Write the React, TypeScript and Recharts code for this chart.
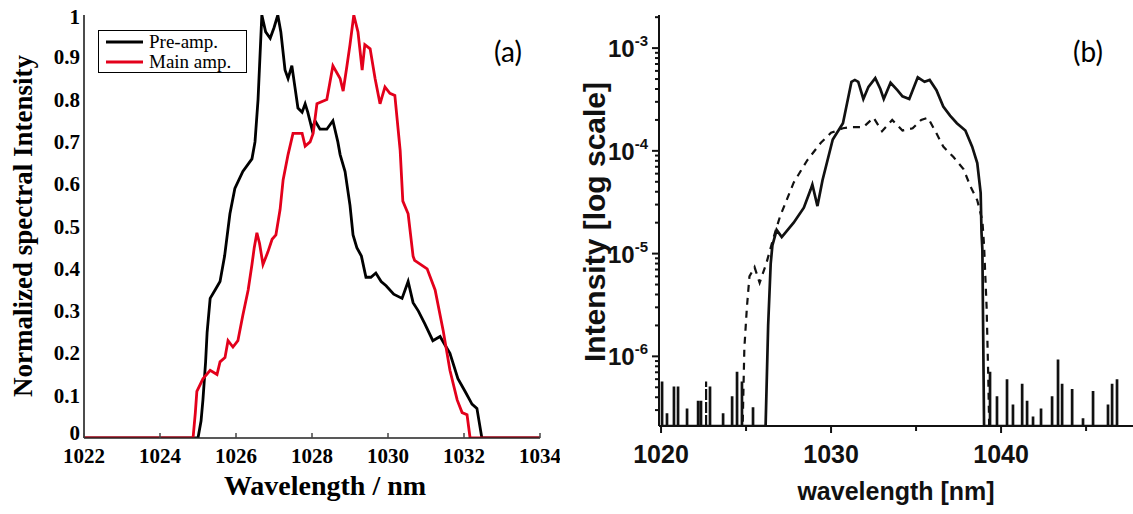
import { LineChart, Line, XAxis, YAxis, Legend } from 'recharts'

// panel (a): normalized spectra, [wavelength nm, intensity]
const preAmp: [number, number][] = [
  [1022, 0], [1025.0, 0], [1025.08, 0.04], [1025.13, 0.09], [1025.2, 0.18], [1025.24, 0.25],
  [1025.32, 0.33], [1025.45, 0.35], [1025.58, 0.37], [1025.7, 0.43], [1025.84, 0.53],
  [1025.97, 0.59], [1026.18, 0.63], [1026.42, 0.66], [1026.5, 0.7], [1026.58, 0.8],
  [1026.68, 1.0], [1026.78, 0.96], [1026.9, 0.945], [1027.0, 0.97], [1027.1, 1.0],
  [1027.18, 0.96], [1027.29, 0.87], [1027.37, 0.85], [1027.47, 0.88], [1027.55, 0.83],
  [1027.63, 0.78], [1027.74, 0.77], [1027.82, 0.79], [1027.89, 0.77], [1028.0, 0.73],
  [1028.08, 0.75], [1028.21, 0.73], [1028.39, 0.73], [1028.55, 0.75], [1028.68, 0.7],
  [1028.74, 0.67], [1028.87, 0.63], [1029.0, 0.55], [1029.08, 0.48], [1029.18, 0.45],
  [1029.3, 0.43], [1029.42, 0.38], [1029.55, 0.38], [1029.68, 0.39], [1029.82, 0.37],
  [1029.95, 0.36], [1030.15, 0.34], [1030.37, 0.33], [1030.53, 0.37], [1030.66, 0.32],
  [1030.8, 0.3], [1030.97, 0.27], [1031.18, 0.23], [1031.37, 0.24], [1031.5, 0.22],
  [1031.63, 0.2], [1031.84, 0.14], [1032.03, 0.11], [1032.15, 0.09], [1032.21, 0.08],
  [1032.34, 0.07], [1032.47, 0], [1034, 0],
]

const mainAmp: [number, number][] = [
  [1022, 0], [1024.87, 0], [1024.93, 0.06], [1024.97, 0.11], [1025.13, 0.14], [1025.32, 0.16],
  [1025.5, 0.15], [1025.58, 0.18], [1025.71, 0.19], [1025.79, 0.23], [1025.92, 0.215],
  [1026.05, 0.23], [1026.18, 0.29], [1026.32, 0.35], [1026.42, 0.41], [1026.48, 0.45],
  [1026.55, 0.485], [1026.62, 0.46], [1026.71, 0.41], [1026.84, 0.44], [1026.95, 0.47],
  [1027.05, 0.48], [1027.16, 0.54], [1027.24, 0.61], [1027.37, 0.67], [1027.5, 0.72],
  [1027.74, 0.72], [1027.82, 0.69], [1027.95, 0.7], [1028.03, 0.72], [1028.13, 0.79],
  [1028.39, 0.8], [1028.47, 0.84], [1028.55, 0.88], [1028.74, 0.85], [1028.82, 0.82],
  [1028.92, 0.88], [1029.0, 0.93], [1029.1, 1.0], [1029.21, 0.96], [1029.32, 0.87],
  [1029.39, 0.93], [1029.53, 0.92], [1029.66, 0.85], [1029.79, 0.79], [1029.92, 0.83],
  [1030.05, 0.815], [1030.18, 0.81], [1030.32, 0.68], [1030.39, 0.56], [1030.53, 0.53],
  [1030.66, 0.43], [1030.7, 0.42], [1031.03, 0.4], [1031.24, 0.35], [1031.45, 0.255],
  [1031.63, 0.16], [1031.82, 0.09], [1031.95, 0.06], [1032.08, 0.055], [1032.16, 0], [1034, 0],
]

// panel (b): log-scale spectra
const FLOOR = 2.1e-7
const CEIL = 2.1e-3

const solidSpectrum: [number, number][] = [
  [1026.15, FLOOR], [1026.3, 2e-6], [1026.45, 8e-6], [1026.55, 1.2e-5], [1026.8, 1.7e-5],
  [1027.1, 1.45e-5], [1027.8, 2.0e-5], [1028.4, 2.8e-5], [1028.8, 4.2e-5], [1028.9, 4.7e-5],
  [1029.2, 2.9e-5], [1029.5, 5.2e-5], [1030.1, 1.29e-4], [1030.7, 1.86e-4], [1031.2, 4.7e-4],
  [1031.4, 4.9e-4], [1031.6, 4.7e-4], [1031.9, 3.2e-4], [1032.2, 4.2e-4], [1032.6, 5.1e-4],
  [1032.9, 4.0e-4], [1033.1, 3.2e-4], [1033.5, 4.6e-4], [1033.9, 3.9e-4], [1034.2, 3.4e-4],
  [1034.6, 3.2e-4], [1035.1, 5.2e-4], [1035.5, 4.7e-4], [1035.8, 4.9e-4], [1036.2, 3.9e-4],
  [1036.6, 2.7e-4], [1037.0, 2.2e-4], [1037.4, 1.86e-4], [1037.9, 1.58e-4], [1038.3, 1.1e-4],
  [1038.6, 7.6e-5], [1038.8, 3.9e-5], [1038.85, 1.6e-5], [1038.9, 1.1e-5], [1039.0, FLOOR],
]

const dashedSpectrum: [number, number][] = [
  [1024.8, FLOOR], [1024.9, 1.2e-6], [1025.05, 3e-6], [1025.2, 6e-6], [1025.5, 7.4e-6],
  [1025.8, 5.2e-6], [1026.2, 8.1e-6], [1026.6, 1.4e-5], [1027.0, 2.3e-5], [1027.8, 4.9e-5],
  [1028.6, 8.1e-5], [1029.4, 1.2e-4], [1030.0, 1.5e-4], [1030.7, 1.66e-4], [1031.1, 1.7e-4],
  [1031.9, 1.7e-4], [1032.5, 2.1e-4], [1033.0, 1.55e-4], [1033.6, 2.0e-4], [1034.2, 1.58e-4],
  [1034.8, 1.66e-4], [1035.3, 2.0e-4], [1035.7, 2.1e-4], [1036.2, 1.48e-4], [1036.6, 1.1e-4],
  [1037.2, 8.7e-5], [1037.8, 6.6e-5], [1038.2, 4.5e-5], [1038.6, 3.3e-5], [1038.9, 2.1e-5],
  [1039.0, 1.2e-5], [1039.15, 3e-6], [1039.25, 6e-7], [1039.3, FLOOR],
]

// noise spikes rising from the floor: [wavelength, peak]
const solidNoiseLeft: [number, number][] = [
  [1020.06, 5.7e-7], [1020.35, 2.8e-7], [1020.76, 5.1e-7], [1021.0, 5.1e-7], [1021.53, 3.1e-7],
  [1022.18, 3.7e-7], [1022.35, 3.7e-7], [1022.88, 5.1e-7], [1023.65, 2.8e-7], [1024.18, 4.1e-7],
  [1024.47, 7.1e-7], [1024.76, 5.7e-7], [1025.41, 3.2e-7],
]
const solidNoiseRight: [number, number][] = [
  [1039.35, 7.1e-7], [1039.76, 4.1e-7], [1040.35, 6.0e-7], [1040.7, 3.4e-7], [1041.24, 5.4e-7],
  [1041.53, 3.7e-7], [1041.88, 2.6e-7], [1042.35, 3.1e-7], [1043.0, 4.1e-7], [1043.35, 9.3e-7],
  [1043.59, 5.4e-7], [1044.18, 4.8e-7], [1044.82, 2.5e-7], [1045.41, 4.6e-7], [1046.29, 3.4e-7],
  [1046.53, 5.4e-7], [1046.82, 6.0e-7],
]
const dashedNoise: [number, number][] = [[1022.65, 5.7e-7]]

const legendOrder = ['Pre-amp.', 'Main amp.']
const aTicksX = [1022, 1024, 1026, 1028, 1030, 1032, 1034]
const aTicksY = [0, 0.1, 0.2, 0.3, 0.4, 0.5, 0.6, 0.7, 0.8, 0.9, 1]
const bMajorX = [1020, 1030, 1040]
const bTicksX = [1020, 1025, 1030, 1035, 1040, 1045]
const bMajorY = [1e-6, 1e-5, 1e-4, 1e-3]
const bDecades = [1e-7, 1e-6, 1e-5, 1e-4, 1e-3]

const bTicksY = bDecades
  .flatMap(d => [1, 2, 3, 4, 5, 6, 7, 8, 9].map(m => d * m))
  .filter(v => v >= FLOOR && v <= CEIL)

const rows = (list: [number, number][]) => list.map(([x, y]) => ({ x, y }))
const spikes = (list: [number, number][]) =>
  list.flatMap(([x, h]) => [{ x, y: FLOOR }, { x, y: h }, { x, y: FLOOR }])

const preRows = rows(preAmp)
const mainRows = rows(mainAmp)
const solidRows = [...spikes(solidNoiseLeft), ...rows(solidSpectrum), ...spikes(solidNoiseRight)]
const dashedRows = [...spikes(dashedNoise), ...rows(dashedSpectrum)]

const SERIF = "'Liberation Serif', 'Times New Roman', serif"
const SANS = "'Liberation Sans', Arial, sans-serif"

function ATickX({ x, y, payload }: any) {
  return (
    <g>
      <line x1={x} x2={x} y1={y} y2={y - 5} stroke="#444" strokeWidth={1.5} />
      <text x={x} y={y + 25} textAnchor="middle" fontFamily={SERIF} fontWeight="bold" fontSize={21} fill="#000">
        {payload.value}
      </text>
    </g>
  )
}

function ATickY({ x, y, payload }: any) {
  // the end labels sit slightly inside the frame, as in the source figure
  const shift = payload.value === 0 ? -5 : payload.value === 1 ? 2 : 0
  return (
    <text x={x - 4} y={y + 7 + shift} textAnchor="end" fontFamily={SERIF} fontWeight="bold" fontSize={21} fill="#000">
      {String(payload.value)}
    </text>
  )
}

function BTickX({ x, y, payload }: any) {
  const major = bMajorX.includes(payload.value)
  return (
    <g>
      <line x1={x} x2={x} y1={y} y2={y + (major ? 7 : 5)} stroke="#111" strokeWidth={2} />
      {major && (
        <text x={x} y={y + 37} textAnchor="middle" fontFamily={SANS} fontWeight="bold" fontSize={25} fill="#111">
          {payload.value}
        </text>
      )}
    </g>
  )
}

function BTickY({ x, y, payload }: any) {
  const v = payload.value
  const major = bMajorY.includes(v)
  return (
    <g>
      <line x1={x} x2={x - (major ? 7 : 4)} y1={y} y2={y} stroke="#111" strokeWidth={2} />
      {major && (
        <text x={x - 11} y={y + 9} textAnchor="end" fontFamily={SANS} fontWeight="bold" fontSize={24} fill="#111">
          10
          <tspan dy={-11} fontSize={15}>{Math.round(Math.log10(v))}</tspan>
        </text>
      )}
    </g>
  )
}

function LegendBox({ payload }: any) {
  const items = [...(payload || [])].sort(
    (a: any, b: any) => legendOrder.indexOf(a.value) - legendOrder.indexOf(b.value),
  )
  return (
    <div style={{ width: 149, height: 43, border: '1px solid #000', boxSizing: 'border-box', background: '#fff', paddingTop: 1 }}>
      {items.map((p: any) => (
        <div key={p.value} style={{ display: 'flex', alignItems: 'center', height: 20 }}>
          <svg width={50} height={20}>
            <line x1={7} x2={44} y1={10} y2={10} stroke={p.color} strokeWidth={3} />
          </svg>
          <span style={{ fontFamily: SERIF, fontSize: 19, lineHeight: '20px', color: '#000' }}>{p.value}</span>
        </div>
      ))}
    </div>
  )
}

export default function App() {
  return (
    <div style={{ position: 'absolute', left: 0, top: 0, width: 1133, height: 514, background: '#fff' }}>
      <div style={{ position: 'absolute', left: 0, top: 0 }}>
        <LineChart width={560} height={514} margin={{ top: 15, right: 20, bottom: 0, left: 0 }}>
          <XAxis
            dataKey="x" type="number" domain={[1022, 1034]} ticks={aTicksX} allowDataOverflow
            height={76} tickSize={0} tickMargin={0} tickLine={false} tick={<ATickX />}
            axisLine={{ stroke: '#222', strokeWidth: 1.5 }}
          />
          <XAxis
            xAxisId="top" orientation="top" type="number" domain={[1022, 1034]} ticks={aTicksX} allowDataOverflow
            height={0} mirror tick={false} tickSize={5} tickLine={{ stroke: '#555', strokeWidth: 1.5 }}
            axisLine={{ stroke: '#444', strokeWidth: 1.5 }}
          />
          <YAxis
            type="number" domain={[0, 1]} ticks={aTicksY} allowDataOverflow width={84}
            tickSize={0} tickMargin={0} tickLine={false} tick={<ATickY />}
            axisLine={{ stroke: '#111', strokeWidth: 1.5 }}
          />
          <YAxis
            yAxisId="r" orientation="right" type="number" domain={[0, 1]} ticks={aTicksY} allowDataOverflow
            width={0} mirror tick={false} tickSize={5} tickLine={{ stroke: '#555', strokeWidth: 1.5 }}
            axisLine={{ stroke: '#666', strokeWidth: 1.5 }}
          />
          <Legend
            layout="horizontal" verticalAlign="middle" align="center"
            content={<LegendBox />} wrapperStyle={{ left: 98, top: 30, width: 149, height: 43 }}
          />
          <Line data={preRows} dataKey="y" name="Pre-amp." type="linear" stroke="#000" strokeWidth={2.8} dot={false} isAnimationActive={false} />
          <Line data={mainRows} dataKey="y" name="Main amp." type="linear" stroke="#e3001b" strokeWidth={2.8} dot={false} isAnimationActive={false} />
        </LineChart>
      </div>

      <div style={{ position: 'absolute', left: 575, top: 0 }}>
        <LineChart width={558} height={514} margin={{ top: 15, right: 0, bottom: 0, left: 0 }}>
          <XAxis
            dataKey="x" type="number" domain={[1019.88, 1047.76]} ticks={bTicksX} allowDataOverflow
            height={88} tickSize={0} tickMargin={0} tickLine={false} tick={<BTickX />} interval={0}
            axisLine={{ stroke: '#111', strokeWidth: 2 }}
          />
          <XAxis
            xAxisId="top" orientation="top" type="number" domain={[1019.88, 1047.76]} allowDataOverflow
            height={0} tick={false} tickLine={false} axisLine={{ stroke: '#000', strokeWidth: 4 }}
          />
          <YAxis
            type="number" scale="log" domain={[FLOOR, CEIL]} ticks={bTicksY} allowDataOverflow width={84}
            tickSize={0} tickMargin={0} tickLine={false} tick={<BTickY />} interval={0}
            axisLine={{ stroke: '#111', strokeWidth: 2 }}
          />
          <Line data={dashedRows} dataKey="y" type="linear" stroke="#111" strokeWidth={2.2} strokeDasharray="7 6" dot={false} isAnimationActive={false} />
          <Line data={solidRows} dataKey="y" type="linear" stroke="#111" strokeWidth={2.7} dot={false} isAnimationActive={false} />
        </LineChart>
      </div>

      <svg width={1133} height={514} style={{ position: 'absolute', left: 0, top: 0, pointerEvents: 'none' }}>
        <text x={325} y={495} textAnchor="middle" fontFamily={SERIF} fontWeight="bold" fontSize={28} fill="#000">
          Wavelength / nm
        </text>
        <text transform="translate(32,226) rotate(-90)" textAnchor="middle" fontFamily={SERIF} fontWeight="bold" fontSize={27} fill="#000">
          Normalized spectral Intensity
        </text>
        <text x={508} y={62} textAnchor="middle" fontFamily="Lato, 'Open Sans', sans-serif" fontSize={28} fill="#000">
          (a)
        </text>
        <text transform="translate(605,222) rotate(-90)" textAnchor="middle" fontFamily={SANS} fontWeight="bold" fontSize={30} fill="#111">
          Intensity [log scale]
        </text>
        <text x={896} y={500} textAnchor="middle" fontFamily={SANS} fontWeight="bold" fontSize={25} fill="#111">
          wavelength [nm]
        </text>
        <text x={1088} y={62} textAnchor="middle" fontFamily="Lato, 'Open Sans', sans-serif" fontSize={28} fill="#000">
          (b)
        </text>
      </svg>
    </div>
  )
}
